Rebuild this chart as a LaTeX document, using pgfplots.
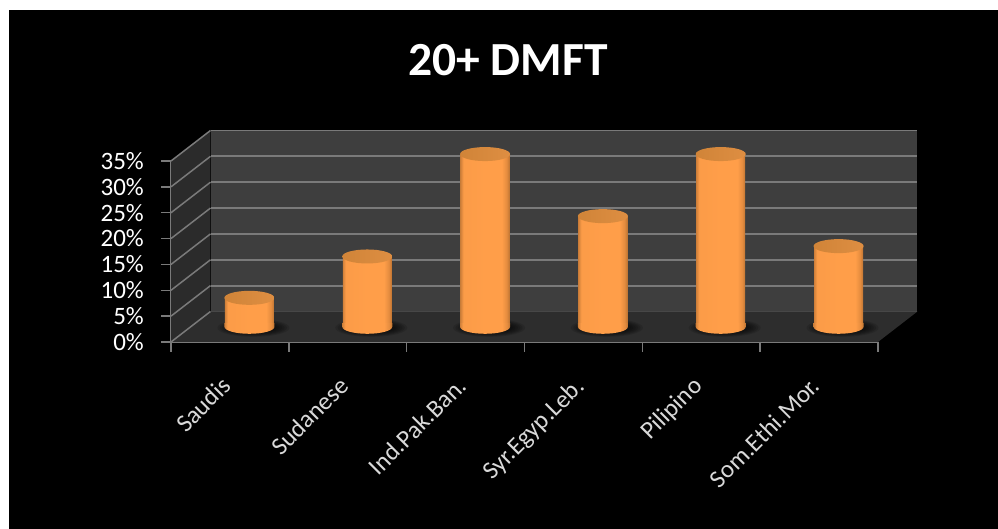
\documentclass[border=0pt]{standalone}
\usepackage{fontspec}
\setmainfont{Carlito}
\usepackage{pgfplots}
\usepackage{pgfplotstable}
\pgfplotsset{compat=1.18}

\definecolor{wallback}{HTML}{3E3E3E}
\definecolor{wallside}{HTML}{2B2B2B}
\definecolor{floorc}{HTML}{2D2D2D}
\definecolor{gridc}{HTML}{7A7A7A}
\definecolor{capL}{HTML}{D08438}
\definecolor{capR}{HTML}{DE8E42}
\definecolor{barL}{HTML}{D0803A}
\definecolor{barM}{HTML}{FF9E49}
\definecolor{barD}{HTML}{E48C3F}
\definecolor{barR}{HTML}{BE7432}

% Cylinder body: thin dark rim on the left, wider one on the right
\pgfdeclarehorizontalshading{cylbody}{100bp}{
  color(0bp)=(barL);
  color(25bp)=(barL);
  color(28bp)=(barM!92!barL);
  color(50bp)=(barM);
  color(67bp)=(barM);
  color(72bp)=(barD);
  color(75bp)=(barR);
  color(100bp)=(barR)}

% Top face and foot of a cylinder, slightly tilted by the perspective
\pgfdeclareplotmark{cyltop}{%
  \path[draw=none,left color=capL,right color=capR,rotate=4.5]
    (0,0) ellipse [x radius=25pt,y radius=7pt];}
\pgfdeclareplotmark{cylfoot}{%
  \path[draw=none,shading=cylbody,rotate=4.5]
    (-25pt,0pt) arc [start angle=180,end angle=360,x radius=25pt,y radius=7pt]
    -- (25pt,4pt) -- (-25pt,4pt) -- cycle;}
\pgfdeclareplotmark{cylshadow}{%
  \foreach \k in {0,1,...,5}{%
    \path[draw=none,fill=black,opacity=0.13]
      (4pt,-1pt) ellipse [x radius={36pt-2.4pt*\k},y radius={9pt-0.8pt*\k}];}}

% Share of each group, percent
\pgfplotstableread{
pos  share
0.5  5.6
1.5  13.6
2.5  33.4
3.5  21.4
4.5  33.4
5.5  15.6
}\sharetable

\pgfplotsset{
  chartgeom/.style={
    scale only axis, x=117.83pt, y=5.171pt,
    xmin=0, xmax=6, ymin=0, ymax=35, clip=false,
  },
  cylinder/.style={ybar,bar width=49pt,bar shift=0pt,draw=none,shading=cylbody},
}

\begin{document}
\begin{tikzpicture}[x=1pt,y=1pt]
  \fill[white] (0,0) rectangle (998,529);
  \fill[black] (9,0) rectangle (998,519);
  \node[font=\fontsize{47.5}{52}\selectfont\bfseries,text=white,anchor=center] at (508,468.5) {20+ DMFT};

  % Back wall with its grid
  \begin{axis}[chartgeom, at={(210.5pt,217.5pt)}, anchor=south west,
    axis background/.style={fill=wallback},
    axis line style={draw=none}, tick style={draw=none},
    xtick=\empty, ytick={0,5,...,35}, yticklabels={},
    ymajorgrids, grid style={draw=gridc,line width=1.8pt}]
    \addplot[draw=none] coordinates {(0,0) (6,35)};
  \end{axis}

  % Front plane: side wall, floor, axes and their labels
  \begin{axis}[chartgeom, at={(171pt,187pt)}, anchor=south west,
    axis x line*=bottom, axis y line*=left,
    axis line style={draw=gridc,line width=1.8pt,-},
    tick style={draw=gridc,line width=1.5pt},
    major tick length=10pt, tick align=outside,
    xtick={0,...,6}, x tick label as interval,
    xticklabels={Saudis,Sudanese,Ind.Pak.Ban.,Syr.Egyp.Leb.,Pilipino,Som.Ethi.Mor.},
    x tick label style={xshift=-10pt,yshift=-23pt,rotate=45,anchor=north east,
      text=white!85!black,font=\fontsize{25}{27}\selectfont,inner sep=0pt},
    ytick={0,5,...,35},
    yticklabels={0\%,5\%,10\%,15\%,20\%,25\%,30\%,35\%},
    y tick label style={xshift=-17pt,text=white,
      font=\fontsize{25}{27}\selectfont,inner sep=0pt},
    ]
    \addplot[fill=wallside,draw=none] coordinates {(0,0) (0.335,5.9) (0.335,40.9) (0,35)} --cycle;
    \addplot[fill=floorc,draw=none] coordinates {(0,0) (0.335,5.9) (6.335,5.9) (6,0)} --cycle;
    \addplot[gridc,line width=1.5pt] coordinates {(0,0) (0.335,5.9)};
    \addplot[gridc,line width=1.5pt] coordinates {(0,5) (0.335,10.9)};
    \addplot[gridc,line width=1.5pt] coordinates {(0,10) (0.335,15.9)};
    \addplot[gridc,line width=1.5pt] coordinates {(0,15) (0.335,20.9)};
    \addplot[gridc,line width=1.5pt] coordinates {(0,20) (0.335,25.9)};
    \addplot[gridc,line width=1.5pt] coordinates {(0,25) (0.335,30.9)};
    \addplot[gridc,line width=1.5pt] coordinates {(0,30) (0.335,35.9)};
    \addplot[gridc,line width=1.5pt] coordinates {(0,35) (0.335,40.9)};
  \end{axis}

  % Soft shadows on the floor, below the cylinders
  \begin{axis}[chartgeom, at={(190.5pt,202.2pt)}, anchor=south west, hide axis]
    \addplot[only marks,mark=cylshadow] table[x=pos,y expr=0] {\sharetable};
  \end{axis}

  % Cylinders stand halfway into the depth of the floor
  \begin{axis}[chartgeom, at={(190.5pt,202.2pt)}, anchor=south west, hide axis]
    \addplot[cylinder] table[x=pos,y=share,skip coords between index={1}{6}] {\sharetable};
    \addplot[cylinder] table[x=pos,y=share,skip coords between index={0}{1},skip coords between index={2}{6}] {\sharetable};
    \addplot[cylinder] table[x=pos,y=share,skip coords between index={0}{2},skip coords between index={3}{6}] {\sharetable};
    \addplot[cylinder] table[x=pos,y=share,skip coords between index={0}{3},skip coords between index={4}{6}] {\sharetable};
    \addplot[cylinder] table[x=pos,y=share,skip coords between index={0}{4},skip coords between index={5}{6}] {\sharetable};
    \addplot[cylinder] table[x=pos,y=share,skip coords between index={0}{5}] {\sharetable};
    \addplot[only marks,mark=cylfoot] table[x=pos,y expr=0] {\sharetable};
    \addplot[only marks,mark=cyltop] table[x=pos,y=share] {\sharetable};
  \end{axis}
\end{tikzpicture}
\end{document}
